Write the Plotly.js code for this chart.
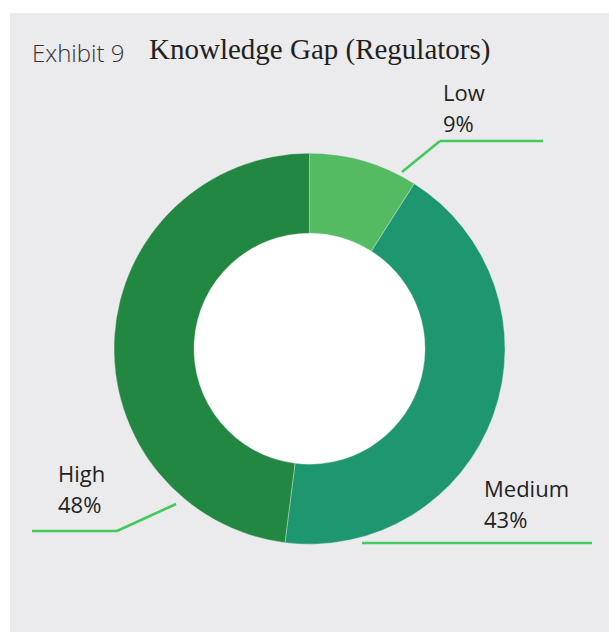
<!DOCTYPE html>
<html>
<head>
<meta charset="utf-8">
<script src="https://cdn.plot.ly/plotly-3.0.1.min.js"></script>
<style>html,body{margin:0;padding:0;background:#fff;}#chart{width:609px;height:632px;}</style>
</head>
<body>
<div id="chart"></div>
<script>
// ---- data ----
const categories = ['Low', 'Medium', 'High'];
const shares = [9, 43, 48];
const sliceColors = ['#55bb62', '#1e9771', '#228740'];
const exhibitLabel = 'Exhibit 9';
const chartTitle = 'Knowledge Gap (Regulators)';

// ---- layout helpers (pixel -> paper) ----
const W = 609, H = 632;
const px = x => x / W;
const py = y => 1 - y / H;

const cx = 309.5, cy = 348.7, R = 195.5, r = 115.5;
const labelFont = {family: 'Open Sans, sans-serif', size: 22, color: '#231f20'};
const lineColor = '#44c95c';

// label anchor positions (left x, baseline of first line) per category index
const labelPos = [
  {x: 441, y: 99},
  {x: 482, y: 495},
  {x: 56, y: 480}
];
const lineGap = 31.5;

const annotations = [
  {text: exhibitLabel, xref: 'paper', yref: 'paper', x: px(30), y: py(61 - 8.5),
   xanchor: 'left', yanchor: 'middle', showarrow: false,
   font: {family: 'Open Sans, sans-serif', size: 24, weight: 300, color: '#333333'}},
  {text: chartTitle, xref: 'paper', yref: 'paper', x: px(147), y: py(60 - 10),
   xanchor: 'left', yanchor: 'middle', showarrow: false,
   font: {family: 'Liberation Serif, serif', size: 29, color: '#231f20'}}
];
categories.forEach((c, i) => {
  const p = labelPos[i];
  annotations.push({text: c, xref: 'paper', yref: 'paper', x: px(p.x), y: py(p.y - 7.5),
    xanchor: 'left', yanchor: 'middle', showarrow: false, font: labelFont});
  annotations.push({text: shares[i] + '%', xref: 'paper', yref: 'paper', x: px(p.x), y: py(p.y + lineGap - 7.5),
    xanchor: 'left', yanchor: 'middle', showarrow: false, font: labelFont});
});

function seg(x0, y0, x1, y1) {
  return {type: 'line', xref: 'paper', yref: 'paper', x0: px(x0), y0: py(y0), x1: px(x1), y1: py(y1),
    line: {color: lineColor, width: 2.6}, layer: 'above'};
}

const shapes = [
  // white outer margins
  {type: 'rect', xref: 'paper', yref: 'paper', x0: 0, x1: px(10), y0: 0, y1: 1, fillcolor: '#ffffff', line: {width: 0}, layer: 'above'},
  {type: 'rect', xref: 'paper', yref: 'paper', x0: 0, x1: 1, y0: py(13), y1: 1, fillcolor: '#ffffff', line: {width: 0}, layer: 'above'},
  // white donut centre
  {type: 'circle', xref: 'paper', yref: 'paper', x0: px(cx - r - 4), x1: px(cx + r + 4), y0: py(cy + r + 4), y1: py(cy - r - 4),
    fillcolor: '#ffffff', line: {width: 0}, layer: 'below'},
  // leader lines
  seg(402, 172, 440, 141), seg(440, 141, 543, 141),
  seg(362, 543, 592, 543),
  seg(176, 504, 117, 531), seg(117, 531, 32, 531)
];

const trace = {
  type: 'pie',
  labels: categories,
  values: shares,
  sort: false,
  direction: 'clockwise',
  rotation: 0,
  hole: r / R,
  textinfo: 'none',
  hoverinfo: 'label+percent',
  marker: {colors: sliceColors, line: {color: 'rgba(235,235,238,0.6)', width: 0.6}},
  domain: {x: [px(cx - R), px(cx + R)], y: [py(cy + R), py(cy - R)]},
  showlegend: false
};

const layout = {
  width: W, height: H, autosize: false,
  margin: {l: 0, r: 0, t: 0, b: 0},
  paper_bgcolor: '#ebebee',
  showlegend: false,
  annotations: annotations,
  shapes: shapes
};

Plotly.newPlot('chart', [trace], layout, {displayModeBar: false, staticPlot: true});
</script>
</body>
</html>
